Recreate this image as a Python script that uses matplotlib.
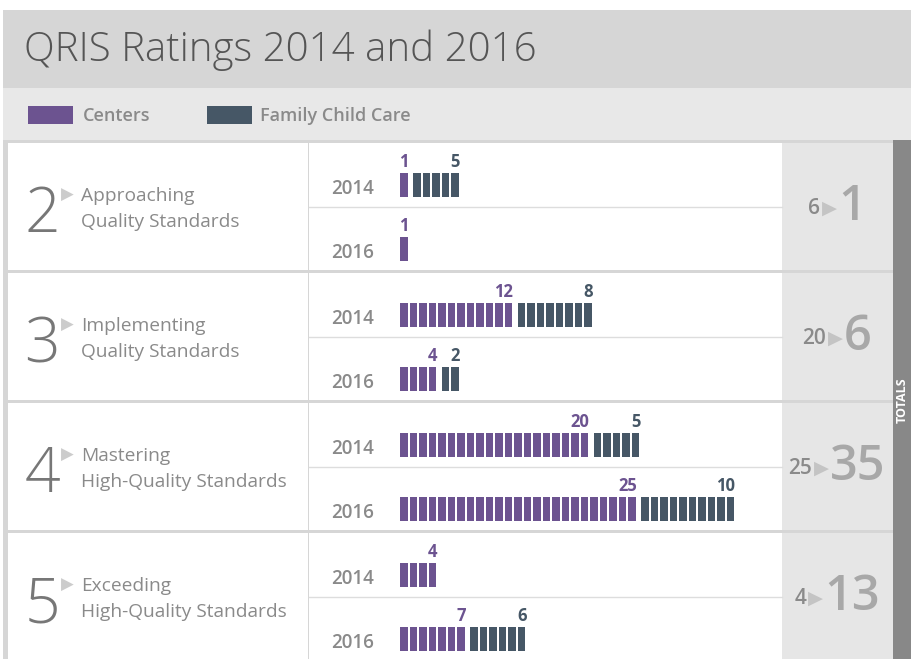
"""QRIS ratings 2014 vs 2016 — unit-bar infographic."""

import matplotlib

matplotlib.use("Agg")
import matplotlib.pyplot as plt
import numpy as np
from matplotlib.offsetbox import AnnotationBbox, HPacker, TextArea

# data
ratings = ["2", "3", "4", "5"]
name_line1 = ["Approaching", "Implementing", "Mastering", "Exceeding"]
name_line2 = ["Quality Standards", "Quality Standards",
              "High-Quality Standards", "High-Quality Standards"]
years = ["2014", "2016"]
centers_2014 = [1, 12, 20, 4]
fcc_2014 = [5, 8, 5, 0]
centers_2016 = [1, 4, 25, 7]
fcc_2016 = [0, 2, 10, 6]

PURPLE = "#6c5390"
SLATE = "#465766"
GREY_TXT = "#8a8a8a"
FONT = "Open Sans"

W, H = 911, 659
fig = plt.figure(figsize=(W / 100, H / 100), dpi=100)
ax = fig.add_axes([0, 0, 1, 1])
ax.set_xlim(0, W)
ax.set_ylim(H, 0)
ax.axis("off")


def rect(x0, y0, x1, y1, color, z=0):
    ax.add_patch(plt.Rectangle((x0, y0), x1 - x0, y1 - y0, color=color, lw=0, zorder=z))


# header + legend bands
rect(3, 10, W, 88, "#d6d6d6")
rect(3, 88, W, 140, "#e8e8e8")
ax.text(24, 50, "QRIS Ratings 2014 and 2016", fontsize=29, color="#555555",
        family=FONT, weight="light", va="center", ha="left")
rect(28, 106, 73, 124, PURPLE, 2)
ax.text(83, 116, "Centers", fontsize=13, color=GREY_TXT, family=FONT,
        weight="semibold", va="center")
rect(207, 106, 252, 124, SLATE, 2)
ax.text(260, 116, "Family Child Care", fontsize=13, color=GREY_TXT,
        family=FONT, weight="semibold", va="center")

# body frame
rect(3, 140, W, H, "#d6d6d6")
tops = [143, 273, 403, 533]
row_h = 127
UNIT = 9.5
BAR_W = 7.7
SERIES_GAP = 5.5
X0 = 400

for i, top in enumerate(tops):
    bot = min(top + row_h, H)
    mid = top + 64
    rect(8, top, 308, bot, "white", 1)
    rect(309, top, 782, bot, "white", 1)
    rect(782, top, 893, bot, "#e6e6e6", 1)
    ax.plot([309, 782], [mid, mid], color="#dddddd", lw=1, zorder=2)

    # left label block
    ax.text(60, mid + 9, ratings[i], fontsize=45, color="#777777", family=FONT,
            weight="light", ha="right", va="center", zorder=3)
    ax.text(67, mid - 12, "\u25B6", fontsize=12, color="#cccccc", ha="center",
            va="center", family="DejaVu Sans", zorder=3)
    ax.text(81, mid - 11, name_line1[i], fontsize=13.8, color=GREY_TXT,
            family=FONT, va="center", zorder=3)
    ax.text(81, mid + 15, name_line2[i], fontsize=13.8, color=GREY_TXT,
            family=FONT, va="center", zorder=3)

    # unit bars per year
    pairs = [(centers_2014[i], fcc_2014[i]), (centers_2016[i], fcc_2016[i])]
    for j, (nc, nf) in enumerate(pairs):
        half = top + j * 64
        bar_top = half + 30
        ax.text(374, bar_top + 16, years[j], fontsize=13.5, color=GREY_TXT,
                family=FONT, weight="semibold", ha="right", va="center", zorder=3)
        xc = X0 + np.arange(nc) * UNIT
        ax.bar(xc, 24, bottom=bar_top, width=BAR_W, align="edge",
               color=PURPLE, zorder=3)
        end_c = X0 + nc * UNIT - (UNIT - BAR_W)
        ax.text(end_c + 1, bar_top - 11, str(nc), fontsize=12, color=PURPLE,
                family=FONT, weight="bold", ha="right", va="center", zorder=3)
        if nf:
            fx0 = end_c + SERIES_GAP
            xf = fx0 + np.arange(nf) * UNIT
            ax.bar(xf, 24, bottom=bar_top, width=BAR_W, align="edge",
                   color=SLATE, zorder=3)
            end_f = fx0 + nf * UNIT - (UNIT - BAR_W)
            ax.text(end_f + 1, bar_top - 11, str(nf), fontsize=12, color=SLATE,
                    family=FONT, weight="bold", ha="right", va="center", zorder=3)

    # totals
    t14 = centers_2014[i] + fcc_2014[i]
    t16 = centers_2016[i] + fcc_2016[i]
    box = HPacker(children=[
        TextArea(str(t14), textprops=dict(fontsize=15, color="#8a8a8a",
                                          family=FONT, weight="semibold")),
        TextArea("\u25B6", textprops=dict(fontsize=14, color="#c4c4c4",
                                          family="DejaVu Sans")),
        TextArea(str(t16), textprops=dict(fontsize=35, color="#a8a8a8",
                                          family=FONT, weight="semibold")),
    ], align="center", pad=0, sep=1)
    ab = AnnotationBbox(box, (837, mid + 1), xycoords="data", frameon=False,
                        box_alignment=(0.5, 0.5), zorder=4)
    ax.add_artist(ab)

# totals strip
rect(893, 140, W, H, "#888888", 1)
ax.text(902, 400, "TOTALS", rotation=90, fontsize=9, color="white",
        family=FONT, weight="bold", ha="center", va="center", zorder=3)

fig.savefig("out.png", dpi=100)
